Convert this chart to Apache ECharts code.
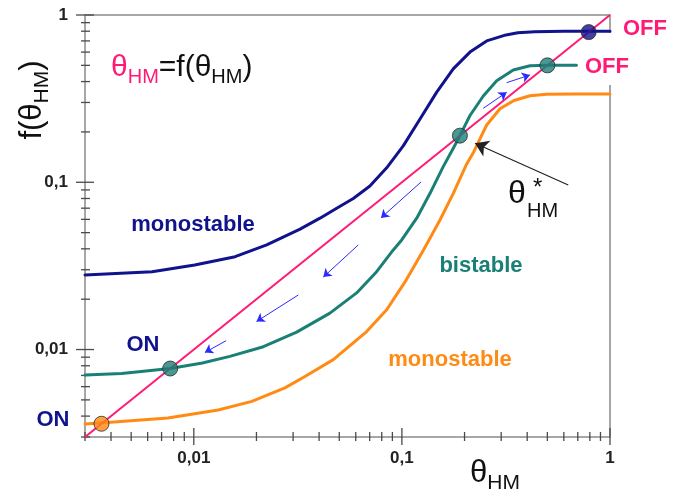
<!DOCTYPE html>
<html>
<head>
<meta charset="utf-8">
<script src="https://cdn.jsdelivr.net/npm/echarts@6/dist/echarts.min.js"></script>
<style>html,body{margin:0;padding:0;background:#fff;}#c{width:686px;height:497px;}</style>
</head>
<body>
<div id="c"></div>
<script>
// ---------- data ----------
const X_MIN = 0.003, X_MAX = 1, Y_MIN = 0.003, Y_MAX = 1;

const diagX = [0.003, 1];
const diagY = [0.003, 1];

const blueX = [0.003, 0.0063, 0.0101, 0.0158, 0.0224, 0.0324, 0.0404, 0.0486, 0.0584, 0.0702, 0.0845, 0.1015, 0.1222, 0.147, 0.1765, 0.2124, 0.2555, 0.3165, 0.3608, 0.4338, 0.6, 0.8, 1];
const blueY = [0.0279, 0.0292, 0.032, 0.0359, 0.0422, 0.0525, 0.061, 0.07, 0.08, 0.095, 0.122, 0.165, 0.239, 0.346, 0.476, 0.60, 0.70, 0.76, 0.784, 0.795, 0.8, 0.8, 0.8];

const tealX = [0.003, 0.0045, 0.0077, 0.011, 0.0149, 0.0216, 0.0312, 0.0451, 0.0606, 0.0756, 0.0909, 0.0998, 0.1178, 0.1365, 0.158, 0.1766, 0.19, 0.2124, 0.2461, 0.2854, 0.343, 0.4125, 0.5, 0.69];
const tealY = [0.00705, 0.0072, 0.0077, 0.0083, 0.0091, 0.0104, 0.0127, 0.0165, 0.0218, 0.0292, 0.0394, 0.0452, 0.061, 0.0859, 0.124, 0.1597, 0.19, 0.2507, 0.328, 0.4043, 0.469, 0.497, 0.5, 0.5];

const orangeX = [0.003, 0.0043, 0.0075, 0.0131, 0.019, 0.0274, 0.0342, 0.0468, 0.0677, 0.0845, 0.105, 0.127, 0.1524, 0.1766, 0.2048, 0.2203, 0.2321, 0.2555, 0.296, 0.3457, 0.4125, 0.4963, 0.69, 1];
const orangeY = [0.00359, 0.0037, 0.0039, 0.00435, 0.0049, 0.0059, 0.0069, 0.0087, 0.0128, 0.0173, 0.0261, 0.0394, 0.0595, 0.0859, 0.1286, 0.150, 0.172, 0.22, 0.275, 0.308, 0.329, 0.336, 0.337, 0.337];

// fixed points (on the diagonal)
const blueDots = [[0.79, 0.79]];
const tealDots = [[0.5, 0.5], [0.19, 0.19], [0.0077, 0.0077]];
const orangeDots = [[0.0036, 0.0036]];

// small flow arrows: tail -> head
const flowTail = [[0.3188, 0.394], [0.2461, 0.2769], [0.1236, 0.1004], [0.0617, 0.0422], [0.0318, 0.0212], [0.0143, 0.0113]];
const flowHead = [[0.4125, 0.4378], [0.3188, 0.345], [0.0793, 0.0612], [0.0419, 0.0271], [0.0200, 0.0147], [0.0113, 0.0096]];

// pointer arrow to theta*
const pointerTail = [0.63, 0.0964];
const pointerHead = [0.2245, 0.171];

// tick values
const xTicks = [0.003,0.004,0.005,0.006,0.007,0.008,0.009,0.01,0.02,0.03,0.04,0.05,0.06,0.07,0.08,0.09,0.1,0.2,0.3,0.4,0.5,0.6,0.7,0.8,0.9,1];
const yTicks = [0.003,0.004,0.005,0.006,0.007,0.008,0.009,0.01,0.02,0.03,0.04,0.05,0.06,0.07,0.08,0.09,0.1,0.2,0.3,0.4,0.5,0.6,0.7,0.8,0.9,1];
const tickLabels = {'0': '1', '-1': '0,1', '-2': '0,01'};

// ---------- style ----------
const FONT = '"Liberation Sans", Arial, sans-serif';
const NAVY = '#10138c', TEAL = '#1a8077', ORANGE = '#ff8a14', PINK = '#ff1a75', FLOW = '#2a2aff';

const zip = (a, b) => a.map((v, i) => [v, b[i]]);
const isMajor = v => Math.abs(Math.log10(v) - Math.round(Math.log10(v))) < 1e-6;
const labelFmt = v => isMajor(v) ? (tickLabels[String(Math.round(Math.log10(v)))] || '') : '';

const chart = echarts.init(document.getElementById('c'), null, {renderer: 'canvas'});

const curve = (name, xs, ys, color, w) => ({
  name, type: 'line', data: zip(xs, ys), showSymbol: false, smooth: false,
  lineStyle: {color, width: w, join: 'round', cap: 'round'}, z: 3, silent: true
});
const dots = (d, color) => ({
  type: 'scatter', data: d, symbol: 'circle', symbolSize: 15,
  itemStyle: {color, borderColor: '#2a2a2a', borderWidth: 1}, z: 6, silent: true
});

const tickSeries = (vals, axis) => ({
  type: 'custom', clip: false, silent: true, z: 1,
  data: vals.map(v => axis === 'x' ? [v, Y_MIN] : [X_MIN, v]),
  renderItem(params, api) {
    const p = api.coord([api.value(0), api.value(1)]);
    const v = axis === 'x' ? api.value(0) : api.value(1);
    const big = isMajor(v);
    const inn = big ? 9 : 5, out = big ? 8 : 4;
    const shape = axis === 'x'
      ? {x1: p[0], y1: p[1] - inn, x2: p[0], y2: p[1] + out}
      : {x1: p[0] - out - (big ? 1 : 0), y1: p[1], x2: p[0] + inn, y2: p[1]};
    return {type: 'line', shape, style: {stroke: '#4a4a4a', lineWidth: 1.3}};
  }
});

const sub = (size, color, pad) => ({fontSize: size, lineHeight: size, fill: color, fontFamily: FONT, verticalAlign: 'top', padding: [pad, 0, 0, 0]});
const main = (size, color) => ({fontSize: size, lineHeight: size, fill: color, fontFamily: FONT, verticalAlign: 'top'});
const txt = (x, y, text, color) => ({
  type: 'text', x, y, z: 10,
  style: {text, fill: color, font: 'bold 22px ' + FONT, align: 'center', verticalAlign: 'middle'}
});

const option = {
  animation: false,
  backgroundColor: '#fff',
  grid: {left: 85, right: 76, top: 15, bottom: 60, show: true, borderColor: '#8a8a8a', borderWidth: 1.5, backgroundColor: 'transparent'},
  xAxis: {
    type: 'log', logBase: 10, min: X_MIN, max: X_MAX,
    axisLine: {show: false}, axisTick: {show: false}, splitLine: {show: false},
    axisLabel: {formatter: labelFmt, fontSize: 17, fontWeight: 'bold', color: '#222', margin: 13, fontFamily: FONT, showMinLabel: true, showMaxLabel: true}
  },
  yAxis: {
    type: 'log', logBase: 10, min: Y_MIN, max: Y_MAX,
    axisLine: {show: false}, axisTick: {show: false}, splitLine: {show: false},
    axisLabel: {formatter: labelFmt, fontSize: 17, fontWeight: 'bold', color: '#222', margin: 17, fontFamily: FONT, showMinLabel: true, showMaxLabel: true}
  },
  series: [
    tickSeries(xTicks, 'x'),
    tickSeries(yTicks, 'y'),
    {type: 'line', data: zip(diagX, diagY), showSymbol: false, lineStyle: {color: PINK, width: 2}, z: 4, silent: true},
    curve('blue', blueX, blueY, NAVY, 3),
    curve('teal', tealX, tealY, TEAL, 3),
    curve('orange', orangeX, orangeY, ORANGE, 3),
    {
      type: 'lines', coordinateSystem: 'cartesian2d', silent: true, z: 5,
      symbol: ['none', 'arrow'], symbolSize: 8,
      lineStyle: {color: FLOW, width: 1, opacity: 1},
      data: flowTail.map((t, i) => ({coords: [t, flowHead[i]]}))
    },
    {
      type: 'lines', coordinateSystem: 'cartesian2d', silent: true, z: 5,
      symbol: ['none', 'arrow'], symbolSize: 13,
      lineStyle: {color: '#222', width: 1.2, opacity: 1},
      data: [{coords: [pointerTail, pointerHead]}]
    },
    dots(blueDots, NAVY),
    dots(tealDots, TEAL),
    dots(orangeDots, ORANGE)
  ],
  graphic: [
    // gap in the right frame behind the upper "OFF" label
    {type: 'rect', shape: {x: 604, y: 33, width: 12, height: 52}, style: {fill: '#fff'}, z: 1},
    {
      type: 'text', x: 32, y: 100, rotation: Math.PI / 2, z: 10,
      style: {text: '{m|f(θ}{s|HM}{m|)}', align: 'center', verticalAlign: 'middle', rich: {m: main(31, '#111'), s: sub(21, '#111', 15)}}
    },
    {
      type: 'text', x: 470, y: 458, z: 10,
      style: {text: '{m|θ}{s|HM}', rich: {m: main(31, '#111'), s: sub(21, '#111', 15)}}
    },
    {
      type: 'text', x: 111, y: 53, z: 10,
      style: {
        text: '{p|θ}{ps|HM}{k|=f(θ}{ks|HM}{k|)}',
        rich: {p: main(30, PINK), ps: sub(20, PINK, 14), k: main(30, '#111'), ks: sub(20, '#111', 14)}
      }
    },
    {type: 'text', x: 508, y: 178, z: 10, style: {text: 'θ', fill: '#111', font: '32px ' + FONT}},
    {type: 'text', x: 533, y: 176, z: 10, style: {text: '*', fill: '#111', font: '24px ' + FONT}},
    {type: 'text', x: 527, y: 201, z: 10, style: {text: 'HM', fill: '#111', font: '20px ' + FONT}},
    txt(193, 225, 'monostable', NAVY),
    txt(143, 345, 'ON', NAVY),
    txt(53, 420, 'ON', NAVY),
    txt(481, 266, 'bistable', TEAL),
    txt(450, 360, 'monostable', ORANGE),
    txt(645, 29, 'OFF', PINK),
    txt(607, 67, 'OFF', PINK)
  ]
};
chart.setOption(option);
</script>
</body>
</html>
